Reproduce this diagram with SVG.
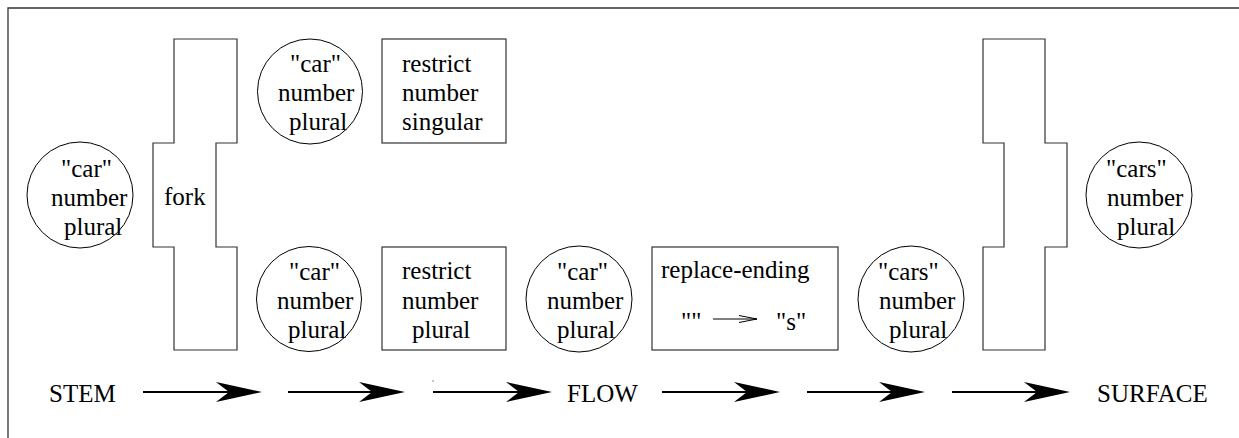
<svg xmlns="http://www.w3.org/2000/svg" width="1239" height="438" viewBox="0 0 1239 438">
<style>
text{font-family:"Liberation Serif","Times New Roman",serif;font-size:25px;fill:#000}
.shape{fill:#fff;stroke:#333;stroke-width:1.2}
.circ{fill:#fff;stroke:#000;stroke-width:1}
.flow{stroke:#000;stroke-width:2;fill:none}
.frame{fill:none;stroke:#333;stroke-width:1.3}
</style>
<defs>
<marker id="head" viewBox="0 0 46 20" refX="13" refY="10" markerWidth="46" markerHeight="20" markerUnits="userSpaceOnUse" orient="auto">
<path d="M0,0 L46,10 L0,20 L13,10 Z" fill="#000"/>
</marker>
</defs>
<rect width="1239" height="438" fill="#fff"/>
<path class="frame" d="M8,438 V8 H1239"/>

<g id="stem-node">
<circle class="circ" cx="80" cy="195" r="53"/>
<text x="61" y="177">"car"</text>
<text x="51" y="206">number</text>
<text x="64" y="235">plural</text>
</g>

<g id="fork">
<path class="shape" d="M174,39 H237 V143 H216 V247 H237 V350 H174 V247 H153 V143 H174 Z"/>
<text x="164" y="205">fork</text>
</g>

<g id="top-car">
<circle class="circ" cx="310" cy="91.5" r="52.5"/>
<text x="290" y="72">"car"</text>
<text x="278" y="101">number</text>
<text x="289" y="130">plural</text>
</g>

<g id="restrict-singular">
<rect class="shape" x="382" y="39" width="124" height="104"/>
<text x="402" y="72">restrict</text>
<text x="402" y="101">number</text>
<text x="402" y="130">singular</text>
</g>

<g id="bottom-car">
<circle class="circ" cx="309" cy="299" r="52.5"/>
<text x="289" y="280">"car"</text>
<text x="277" y="309">number</text>
<text x="288" y="338">plural</text>
</g>

<g id="restrict-plural">
<rect class="shape" x="382" y="247" width="124" height="103"/>
<text x="402" y="279">restrict</text>
<text x="402" y="309">number</text>
<text x="412" y="338">plural</text>
</g>

<g id="middle-car">
<circle class="circ" cx="579" cy="299" r="53"/>
<text x="557" y="280">"car"</text>
<text x="547" y="309">number</text>
<text x="557" y="338">plural</text>
</g>

<g id="replace-ending">
<rect class="shape" x="652" y="247" width="186" height="103"/>
<text x="661" y="278">replace-ending</text>
<text x="681" y="330">""</text>
<path d="M713,319 H757 M739,315.5 L757,319 L739,322.5" fill="none" stroke="#000" stroke-width="1"/>
<text x="776" y="330">"s"</text>
</g>

<g id="bottom-cars">
<circle class="circ" cx="911" cy="299" r="53"/>
<text x="878" y="280">"cars"</text>
<text x="879" y="309">number</text>
<text x="889" y="338">plural</text>
</g>

<g id="join">
<path class="shape" d="M983,39 H1045 V143 H1067 V247 H1045 V350 H983 V247 H1004 V143 H983 Z"/>
</g>

<g id="surface-node">
<circle class="circ" cx="1139" cy="195" r="53"/>
<text x="1106" y="177">"cars"</text>
<text x="1107" y="206">number</text>
<text x="1117" y="235">plural</text>
</g>

<g id="labels">
<text x="49" y="402">STEM</text>
<text x="567" y="402">FLOW</text>
<text x="1097" y="402">SURFACE</text>
</g>

<g id="connectors">
<path class="flow" d="M143,392 H229" marker-end="url(#head)"/>
<path class="flow" d="M288,392 H372" marker-end="url(#head)"/>
<path class="flow" d="M433,392 H519" marker-end="url(#head)"/>
<path class="flow" d="M662,392 H747" marker-end="url(#head)"/>
<path class="flow" d="M807,392 H892" marker-end="url(#head)"/>
<path class="flow" d="M952,392 H1037" marker-end="url(#head)"/>
<path d="M433,380 V382" stroke="#888" stroke-width="1"/>
</g>
</svg>
